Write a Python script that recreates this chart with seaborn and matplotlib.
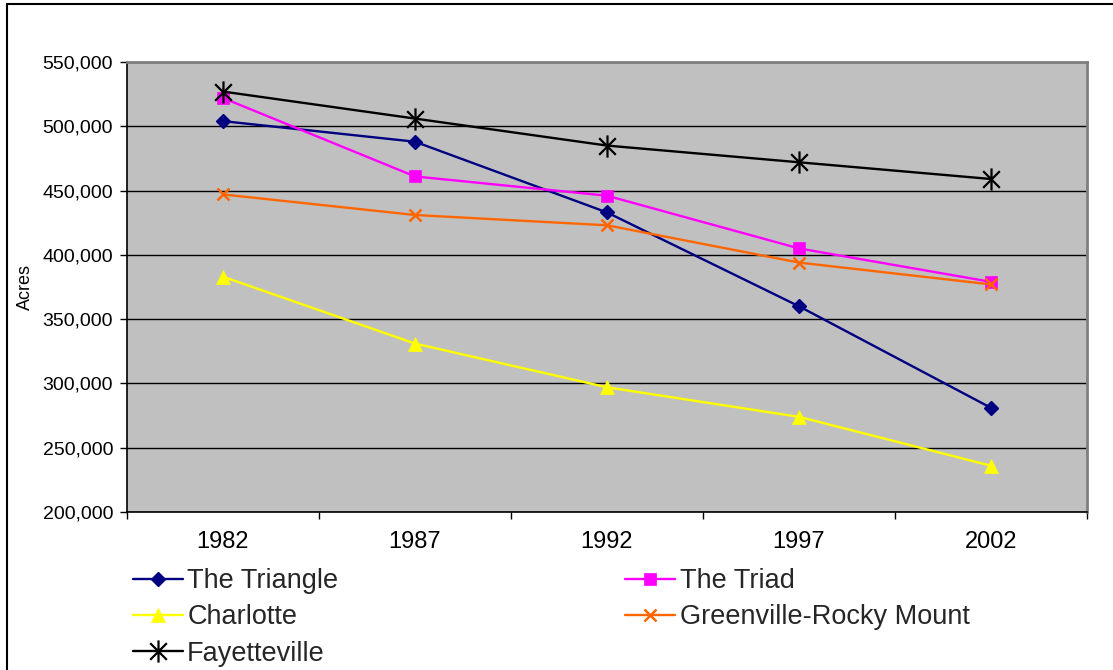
import matplotlib
matplotlib.use("Agg")
import matplotlib.pyplot as plt
from matplotlib.lines import Line2D
from matplotlib.path import Path
from matplotlib.ticker import FixedLocator, NullFormatter, FixedFormatter, StrMethodFormatter
import seaborn as sns
import pandas as pd

# Farmland acreage by metro region
years = [1982, 1987, 1992, 1997, 2002]
triangle = [504000, 488000, 433000, 360000, 281000]
triad = [522000, 461000, 446000, 405000, 379000]
charlotte = [383000, 331000, 297000, 274000, 236000]
greenville = [447000, 431000, 423000, 394000, 377000]
fayetteville = [527000, 506000, 485000, 472000, 459000]

region_names = ["The Triangle", "The Triad", "Charlotte",
                "Greenville-Rocky Mount", "Fayetteville"]
region_values = [triangle, triad, charlotte, greenville, fayetteville]

sns.set_theme(style="white")
plt.rcParams["font.family"] = ["Liberation Sans", "DejaVu Sans"]

# Asterisk marker: vertical bar plus a diagonal cross
asterisk = Path(
    [(0, -1), (0, 1), (-0.75, -0.75), (0.75, 0.75), (-0.75, 0.75), (0.75, -0.75)],
    [Path.MOVETO, Path.LINETO, Path.MOVETO, Path.LINETO, Path.MOVETO, Path.LINETO],
)

styles = {
    "The Triangle": dict(color="#000080", marker="D", markersize=7.5,
                         markerfacecolor="#000080", markeredgecolor="#000080", markeredgewidth=1),
    "The Triad": dict(color="#FF00FF", marker="s", markersize=8.5,
                      markerfacecolor="#FF00FF", markeredgecolor="#FF00FF", markeredgewidth=0.5),
    "Charlotte": dict(color="#FFFF00", marker="^", markersize=10,
                      markerfacecolor="#FFFF00", markeredgecolor="#FFFF00", markeredgewidth=0.5),
    "Greenville-Rocky Mount": dict(color="#FF6600", marker="x", markersize=9,
                                   markeredgecolor="#FF6600", markeredgewidth=1.8),
    "Fayetteville": dict(color="#000000", marker=asterisk, markersize=16,
                         markerfacecolor="#000000", markeredgecolor="#000000", markeredgewidth=1.6),
}

fig = plt.figure(figsize=(11.13, 6.70), dpi=100)
ax = fig.add_axes([127 / 1113, 1 - 512 / 670, 960 / 1113, 450 / 670])
ax.set_facecolor("#C0C0C0")

handles = {}
for name, vals in zip(region_names, region_values):
    df = pd.DataFrame({"year": years, "acres": vals})
    st = styles[name]
    sns.lineplot(data=df, x="year", y="acres", ax=ax, linewidth=1.7,
                 legend=False, **st)
    handles[name] = Line2D([], [], linewidth=1.7, **st)

ax.set_xlim(years[0] - 2.5, years[-1] + 2.5)
ax.set_ylim(200000, 550000)

# Category boundaries carry the tick marks; labels sit at the category centres
bounds = [y - 2.5 for y in years] + [years[-1] + 2.5]
ax.xaxis.set_major_locator(FixedLocator(bounds))
ax.xaxis.set_major_formatter(NullFormatter())
ax.xaxis.set_minor_locator(FixedLocator(years))
ax.xaxis.set_minor_formatter(FixedFormatter([str(y) for y in years]))
ax.tick_params(axis="x", which="major", direction="out", length=5, width=1, color="black", bottom=True)
ax.tick_params(axis="x", which="minor", length=0, labelsize=17, pad=14, labelcolor="black")

ax.yaxis.set_major_locator(FixedLocator(list(range(200000, 550001, 50000))))
ax.yaxis.set_major_formatter(StrMethodFormatter("{x:,.0f}"))
ax.tick_params(axis="y", direction="out", length=5, width=1, color="black", left=True,
               labelsize=14, pad=5, labelcolor="black")

ax.grid(axis="y", color="black", linewidth=1)
ax.grid(axis="x", visible=False)
ax.set_axisbelow(True)

for side in ["left", "bottom"]:
    ax.spines[side].set_color("black")
    ax.spines[side].set_linewidth(1.2)
for side in ["top", "right"]:
    ax.spines[side].set_color("#808080")
    ax.spines[side].set_linewidth(2)

ax.set_xlabel("")
ax.set_ylabel("Acres", fontsize=13, labelpad=6, color="black")

order = ["The Triangle", "Charlotte", "Fayetteville", "The Triad", "Greenville-Rocky Mount"]
fig.legend([handles[n] for n in order], order, ncol=2, loc="upper left",
           bbox_to_anchor=(133 / 1113, 1 - 568 / 670), frameon=False,
           fontsize=19.5, handlelength=1.85, handletextpad=0.15, columnspacing=10.6,
           labelspacing=0.38, borderpad=0, borderaxespad=0)

# Outer frame: left and top edges
fig.add_artist(Line2D([6.5 / 1113, 6.5 / 1113], [0, 1 - 3.5 / 670], color="black", linewidth=1.5))
fig.add_artist(Line2D([6.5 / 1113, 1], [1 - 3.5 / 670, 1 - 3.5 / 670], color="black", linewidth=1.5))

fig.savefig("out.png", dpi=100)
